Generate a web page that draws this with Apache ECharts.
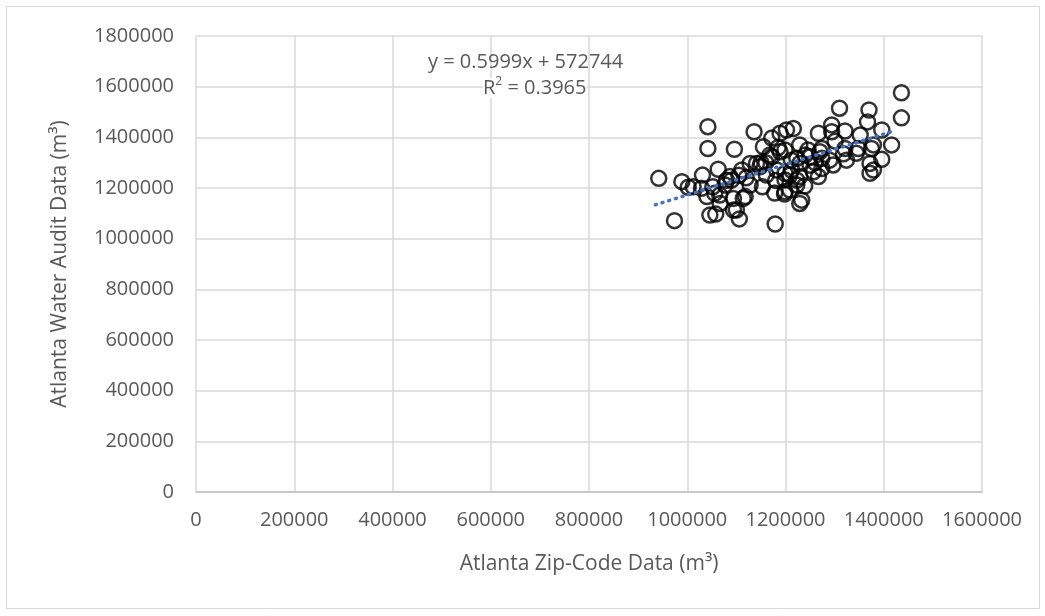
<!DOCTYPE html>
<html>
<head>
<meta charset="utf-8">
<script src="https://cdn.jsdelivr.net/npm/echarts@6/dist/echarts.min.js"></script>
<style>
  html, body { margin: 0; padding: 0; background: #fff; }
  #main { width: 1045px; height: 616px; }
</style>
</head>
<body>
<div id="main"></div>
<script>
// zip-code data (x) vs water audit data (y)
var zipData = [
  1436000, 1436000, 1310000, 1370000, 1367000, 1042000, 1042000, 942000, 974000, 1179000,
  1229000, 1198000, 1136000, 1202000, 1216000, 1096000, 989000, 1002000, 1031000, 1063000,
  1040000, 1046000, 1058000, 1106000, 1066000, 1111000, 1128000, 1118000, 1153000, 1172000,
  1189000, 1199000, 1229000, 1199000, 1229000, 1239000, 1267000, 1294000, 1294000, 1321000,
  1301000, 1270000, 1274000, 1267000, 1297000, 1324000, 1352000, 1348000, 1379000, 1396000,
  1416000, 1396000, 1379000, 1372000, 1090000, 1056000, 1155000, 1148000, 1172000, 1182000,
  1223000, 1246000, 1128000, 1080000, 1029000, 1094000, 1067000, 1321000, 1212000, 1199000,
  1223000, 1257000, 1290000, 1344000, 1372000, 1141000, 1168000, 1189000, 1087000, 1077000,
  1161000, 1094000, 1114000, 1100000, 1199000, 1012000, 1375000, 1250000, 1229000, 1274000,
  1212000, 1209000, 1223000, 1209000, 1233000, 1274000, 1250000, 1160000, 1180000, 1260000,
  1105000, 1150000, 1178000, 1240000, 1318000, 1052000, 1120000, 1185000
];
var auditData = [
  1576000, 1477000, 1515000, 1508000, 1461000, 1442000, 1356000, 1238000, 1071000, 1058000,
  1139000, 1176000, 1422000, 1429000, 1435000, 1353000, 1225000, 1203000, 1251000, 1274000,
  1166000, 1093000, 1097000, 1078000, 1172000, 1271000, 1212000, 1166000, 1205000, 1397000,
  1416000, 1350000, 1370000, 1258000, 1245000, 1208000, 1416000, 1449000, 1422000, 1425000,
  1385000, 1343000, 1317000, 1245000, 1291000, 1310000, 1409000, 1356000, 1370000, 1429000,
  1370000, 1313000, 1271000, 1258000, 1231000, 1179000, 1363000, 1284000, 1323000, 1271000,
  1317000, 1350000, 1297000, 1231000, 1199000, 1113000, 1139000, 1356000, 1310000, 1232000,
  1212000, 1264000, 1310000, 1337000, 1297000, 1297000, 1330000, 1343000, 1245000, 1212000,
  1251000, 1159000, 1159000, 1113000, 1185000, 1205000, 1356000, 1323000, 1297000, 1277000,
  1271000, 1251000, 1231000, 1192000, 1152000, 1356000, 1290000, 1300000, 1230000, 1300000,
  1250000, 1300000, 1180000, 1330000, 1335000, 1205000, 1240000, 1360000
];

// linear trend line y = 0.5999x + 572744
var trendSlope = 0.5999;
var trendIntercept = 572744;
var trendRange = [935000, 1425000];

var xTicks = [0, 200000, 400000, 600000, 800000, 1000000, 1200000, 1400000, 1600000];
var yTicks = [0, 200000, 400000, 600000, 800000, 1000000, 1200000, 1400000, 1600000, 1800000];

var points = [];
for (var i = 0; i < zipData.length; i++) {
    points.push([zipData[i], auditData[i]]);
}
var trendPoints = trendRange.map(function(x) {
    return [x, trendSlope * x + trendIntercept];
});

var myChart = echarts.init(document.getElementById('main'));
var textColor = '#595959';
var gridColor = '#d9d9d9';

var option = {
    backgroundColor: '#fff',
    animation: false,
    grid: { left: 196, right: 63, top: 36, bottom: 124 },
    graphic: [
        {
            type: 'rect',
            shape: { x: 6.5, y: 6.5, width: 1033, height: 602 },
            style: { fill: 'none', stroke: '#d9d9d9', lineWidth: 1 },
            silent: true
        },
        {
            type: 'text',
            left: 428, top: 52,
            z: 10,
            style: {
                text: 'y = 0.5999x + 572744',
                fill: textColor,
                font: '20px "Open Sans"'
            }
        },
        {
            type: 'text',
            left: 483, top: 76,
            z: 10,
            style: {
                rich: {
                    b: { fontSize: 20, fontFamily: 'Open Sans', fill: textColor, backgroundColor: '#fff', lineHeight: 24 },
                    s: { fontSize: 12, fontFamily: 'Open Sans', fill: textColor, backgroundColor: '#fff', lineHeight: 24, verticalAlign: 'top' }
                },
                text: '{b|R}{s|2}{b| = 0.3965}'
            }
        }
    ],
    xAxis: {
        type: 'value',
        min: 0,
        max: 1600000,
        interval: 200000,
        name: 'Atlanta Zip-Code Data (m³)',
        nameLocation: 'middle',
        nameGap: 62,
        nameTextStyle: { color: textColor, fontSize: 21, fontFamily: 'Open Sans' },
        axisLine: { show: true, lineStyle: { color: '#bfbfbf', width: 1.5 } },
        axisTick: { show: false },
        axisLabel: {
            color: textColor,
            fontSize: 20,
            fontFamily: 'Open Sans',
            margin: 18,
            formatter: function(v) { return xTicks.indexOf(v) >= 0 ? String(v) : ''; }
        },
        splitLine: { show: true, lineStyle: { color: gridColor, width: 1.5 } }
    },
    yAxis: {
        type: 'value',
        min: 0,
        max: 1800000,
        interval: 200000,
        name: 'Atlanta Water Audit Data (m³)',
        nameLocation: 'middle',
        nameGap: 125,
        nameTextStyle: { color: textColor, fontSize: 21, fontFamily: 'Open Sans' },
        axisLine: { show: false },
        axisTick: { show: false },
        axisLabel: {
            color: textColor,
            fontSize: 20,
            fontFamily: 'Open Sans',
            margin: 22,
            formatter: function(v) { return yTicks.indexOf(v) >= 0 ? String(v) : ''; }
        },
        splitLine: { show: true, lineStyle: { color: gridColor, width: 1.5 } }
    },
    series: [
        {
            name: 'data',
            type: 'scatter',
            data: points,
            symbol: 'circle',
            symbolSize: 15,
            itemStyle: { color: 'rgba(255,255,255,0)', borderColor: '#000', borderWidth: 2.5 }
        },
        {
            name: 'trend',
            type: 'line',
            data: trendPoints,
            symbol: 'none',
            z: 3,
            lineStyle: { color: '#4472c4', width: 3.5, type: [1, 6], cap: 'round' }
        }
    ]
};
myChart.setOption(option);
</script>
</body>
</html>
